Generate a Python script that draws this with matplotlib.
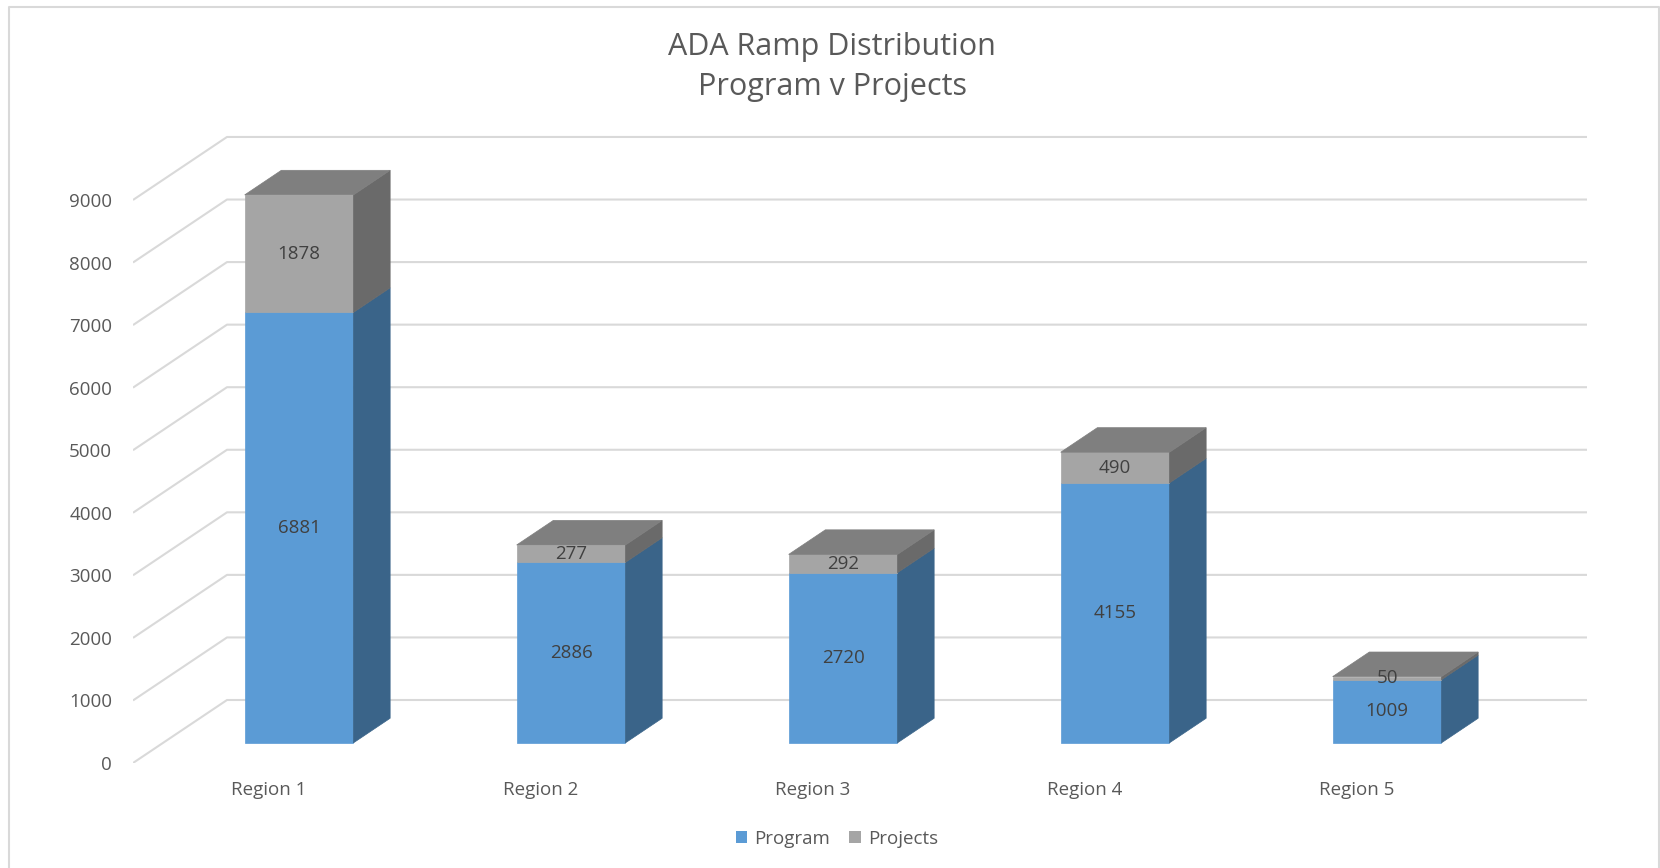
import matplotlib.pyplot as plt
from matplotlib.patches import Polygon, Patch
from matplotlib.lines import Line2D

# =====================================
# DATA
# =====================================

regions = ["Region 1", "Region 2", "Region 3", "Region 4", "Region 5"]
program = [6881, 2886, 2720, 4155, 1009]
projects = [1878, 277, 292, 490, 50]
y_ticks = list(range(0, 10000, 1000))

# =====================================
# STYLE
# =====================================

plt.rcParams["font.family"] = ["Open Sans", "DejaVu Sans"]

TEXT = "#595959"
GRID = "#D9D9D9"
PROG_FRONT = "#5B9BD5"
PROG_SIDE = "#3A6489"
PROJ_FRONT = "#A5A5A5"
PROJ_SIDE = "#6A6A6A"
PROJ_TOP = "#7F7F7F"
LABEL_FS = 13.5

# depth of the floor in data units (x in categories, y in values)
DX = 0.3456
DY = 1007
F0, F1 = 0.32, 0.71   # front / back of the bars as share of depth
HALF = 0.2            # half bar width

W, H = 1660, 868
fig = plt.figure(figsize=(W / 100, H / 100), dpi=100)

# axes placed in pixels: front floor from x=133, y=0 at 763 px
px_per_val = 0.06256
ymax = 10050
ax_h = ymax * px_per_val
ax = fig.add_axes([133 / W, (H - 763) / H, (1587 - 133) / W, ax_h / H])
ax.set_xlim(-0.5, 4.5 + DX)
ax.set_ylim(0, ymax)

for s in ax.spines.values():
    s.set_visible(False)

ax.set_yticks(y_ticks)
ax.set_yticklabels([str(v) for v in y_ticks], fontsize=LABEL_FS, color=TEXT)
ax.set_xticks(range(len(regions)))
ax.set_xticklabels(regions, fontsize=LABEL_FS, color=TEXT)
ax.tick_params(axis="y", length=0, pad=15)
ax.tick_params(axis="x", length=0, pad=13)

# =====================================
# GRID (floor diagonals + back wall)
# =====================================

for v in y_ticks:
    ax.plot([-0.5, -0.5 + DX, 4.5 + DX], [v, v + DY, v + DY],
            color=GRID, lw=1.5, zorder=1, solid_capstyle="butt")


def draw_box(i, bottom, height, front, side, top=None):
    x0 = i - HALF + F0 * DX
    x1 = i + HALF + F0 * DX
    y0 = bottom + F0 * DY
    y1 = bottom + height + F0 * DY
    sx = (F1 - F0) * DX
    sy = (F1 - F0) * DY
    ax.add_patch(Polygon([(x0, y0), (x1, y0), (x1, y1), (x0, y1)],
                         closed=True, facecolor=front, edgecolor=front,
                         lw=0.5, zorder=3))
    ax.add_patch(Polygon([(x1, y0), (x1 + sx, y0 + sy),
                          (x1 + sx, y1 + sy), (x1, y1)],
                         closed=True, facecolor=side, edgecolor=side,
                         lw=0.5, zorder=3))
    if top is not None:
        ax.add_patch(Polygon([(x0, y1), (x1, y1), (x1 + sx, y1 + sy),
                              (x0 + sx, y1 + sy)],
                             closed=True, facecolor=top, edgecolor=top,
                             lw=0.5, zorder=3))
    return (x0 + x1) / 2, (y0 + y1) / 2


# =====================================
# BARS
# =====================================

for i in range(len(regions)):
    cx, cy = draw_box(i, 0, program[i], PROG_FRONT, PROG_SIDE)
    ax.text(cx, cy, str(program[i]), ha="center", va="center",
            fontsize=LABEL_FS, color="#404040", zorder=5)
    cx, cy = draw_box(i, program[i], projects[i], PROJ_FRONT, PROJ_SIDE,
                      top=PROJ_TOP)
    ax.text(cx, cy, str(projects[i]), ha="center", va="center",
            fontsize=LABEL_FS, color="#404040", zorder=5)

# =====================================
# TITLE / LEGEND / BORDER
# =====================================

fig.text(832 / W, 1 - 47 / H, "ADA Ramp Distribution",
         ha="center", va="center", fontsize=22, color=TEXT)
fig.text(832 / W, 1 - 87 / H, "Program v Projects",
         ha="center", va="center", fontsize=22, color=TEXT)

handles = [Patch(facecolor=PROG_FRONT, label="Program"),
           Patch(facecolor=PROJ_FRONT, label="Projects")]
fig.legend(handles=handles, loc="center", bbox_to_anchor=(837 / W, 1 - 839 / H),
           ncol=2, frameon=False, fontsize=LABEL_FS, labelcolor=TEXT,
           handlelength=0.6, handleheight=0.6, handletextpad=0.4,
           columnspacing=1.0)

fig.add_artist(Line2D([9 / W, 9 / W, 1659 / W, 1659 / W],
                      [0, 1 - 7 / H, 1 - 7 / H, 0],
                      transform=fig.transFigure, color="#D9D9D9", lw=1.5))

fig.savefig("out.png", dpi=100, facecolor="white")
